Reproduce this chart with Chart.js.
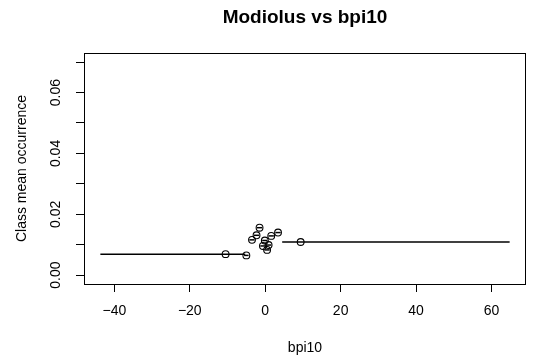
<!DOCTYPE html>
<html>
<head>
<meta charset="utf-8">
<script src="https://cdn.jsdelivr.net/npm/chart.js@4/dist/chart.umd.min.js"></script>
<style>
  html, body { margin: 0; padding: 0; background: #fff; }
  canvas { display: block; }
</style>
</head>
<body>
<canvas id="chart" width="533" height="363"></canvas>
<script>
// class point (x, mean occurrence) and the bpi10 interval each class covers
const classX = [-10.5, -5.0, -3.5, -2.3, -1.5, -0.6, -0.1, 0.5, 0.9, 1.6, 3.4, 9.4];
const classMean = [0.0069, 0.0065, 0.0116, 0.0131, 0.0156, 0.0096, 0.0114, 0.0083, 0.0099, 0.0129, 0.0140, 0.0109];
const classLo = [-43.7, -5.6, -4.2, -3.0, -2.2, -1.3, -0.8, -0.2, 0.2, 0.9, 2.7, 4.5];
const classHi = [-5.3, -4.4, -2.8, -1.6, -0.8, 0.1, 0.6, 1.2, 1.6, 2.3, 4.1, 64.8];

const xTicks = [-40, -20, 0, 20, 40, 60];
const yTicks = [0, 0.01, 0.02, 0.03, 0.04, 0.05, 0.06, 0.07];

const FONT = "'Liberation Sans', Arial, sans-serif";

const boxPlugin = {
    id: 'box',
    afterDraw(chart) {
        const { ctx, chartArea: a } = chart;
        ctx.save();
        ctx.strokeStyle = '#000';
        ctx.lineWidth = 1;
        ctx.strokeRect(a.left + 0.5, a.top + 0.5, a.right - a.left - 1, a.bottom - a.top);
        ctx.restore();
    }
};

const pointSet = {
    data: classX.map((x, i) => ({ x, y: classMean[i] })),
    showLine: false,
    pointStyle: 'circle',
    pointRadius: 3.4,
    pointBorderWidth: 1.1,
    pointBorderColor: '#000',
    pointBackgroundColor: 'rgba(0,0,0,0)'
};

const segmentSets = classLo.map((lo, i) => ({
    data: [{ x: lo, y: classMean[i] }, { x: classHi[i], y: classMean[i] }],
    showLine: true,
    borderColor: '#000',
    borderWidth: 1.5,
    pointRadius: 0
}));

new Chart(document.getElementById('chart'), {
    type: 'scatter',
    data: { datasets: [pointSet, ...segmentSets] },
    options: {
        responsive: false,
        animation: false,
        devicePixelRatio: 1,
        layout: { padding: { left: 0, right: 7, top: 0, bottom: 0 } },
        plugins: {
            legend: { display: false },
            tooltip: { enabled: false },
            title: {
                display: true,
                fullSize: false,
                text: 'Modiolus vs bpi10',
                color: '#000',
                font: { family: FONT, size: 19, weight: 'bold', lineHeight: 1.2 },
                padding: { top: 6, bottom: 24.2 }
            }
        },
        scales: {
            x: {
                type: 'linear',
                min: -48.04,
                max: 69.14,
                afterBuildTicks: s => { s.ticks = xTicks.map(v => ({ value: v })); },
                afterFit: s => { s.height = 79; },
                border: { display: false },
                grid: { display: true, drawOnChartArea: false, drawTicks: true, tickLength: 8, color: '#000' },
                ticks: {
                    color: '#000',
                    padding: 11,
                    font: { family: FONT, size: 14 },
                    maxRotation: 0,
                    autoSkip: false,
                    callback: v => String(v).replace('-', '\u2212')
                },
                title: {
                    display: true,
                    text: 'bpi10',
                    color: '#000',
                    font: { family: FONT, size: 14 },
                    padding: { top: 0, bottom: 6.6 }
                }
            },
            y: {
                type: 'linear',
                min: -0.0029,
                max: 0.0730,
                afterBuildTicks: s => { s.ticks = yTicks.map(v => ({ value: v })); },
                afterFit: s => { s.width = 84; },
                border: { display: false },
                grid: { display: true, drawOnChartArea: false, drawTicks: true, tickLength: 8, color: '#000' },
                ticks: {
                    color: '#000',
                    padding: 6.4,
                    font: { family: FONT, size: 14 },
                    minRotation: 90,
                    maxRotation: 90,
                    crossAlign: 'center',
                    autoSkip: false,
                    callback: (v, i) => (i % 2 === 0 ? v.toFixed(2) : '')
                },
                title: {
                    display: true,
                    text: 'Class mean occurrence',
                    color: '#000',
                    font: { family: FONT, size: 14 },
                    padding: { top: 13.6, bottom: 0 }
                }
            }
        }
    },
    plugins: [boxPlugin]
});
</script>
</body>
</html>
